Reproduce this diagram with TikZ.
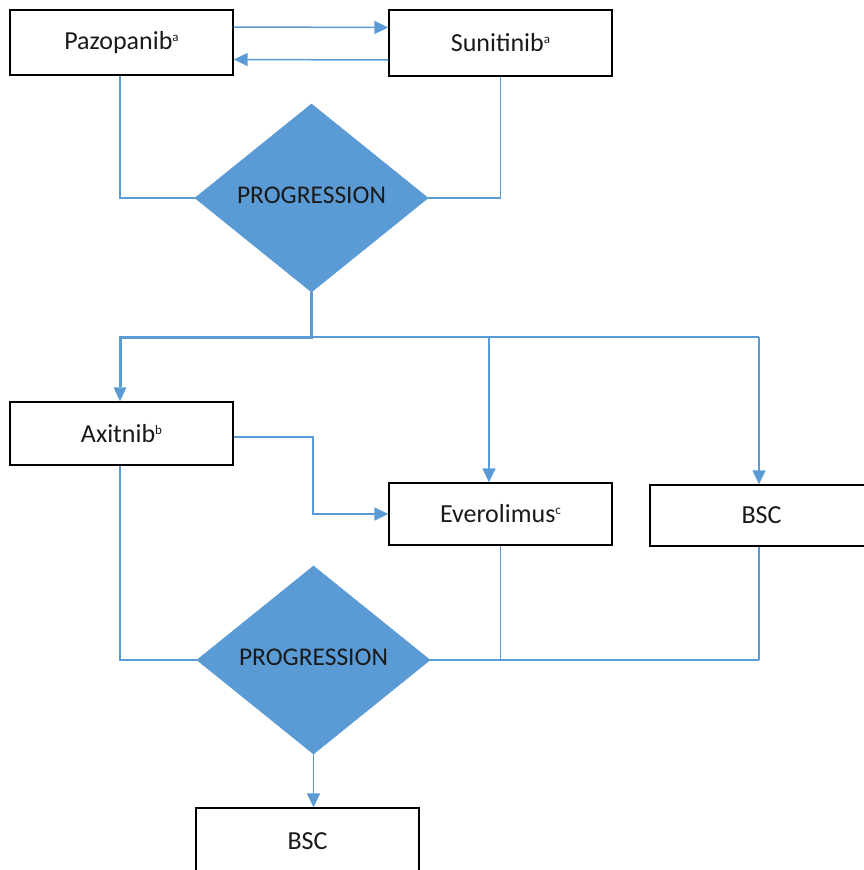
\documentclass[tikz,border=0pt]{standalone}
\usepackage{fontspec}
\setmainfont{Carlito}
\usetikzlibrary{shapes.geometric,arrows.meta}
\definecolor{flowblue}{HTML}{5B9BD5}
\definecolor{labelink}{HTML}{1A1A1A}
\newcommand\upnote[1]{\raisebox{8pt}{\fontsize{13}{13}\selectfont #1}}
\tikzset{
  stepbox/.style={draw=black, line width=1.4pt, fill=white, rectangle,
    minimum width=223pt, inner sep=0pt, text=labelink,
    font=\fontsize{26}{29}\selectfont},
  decision/.style={diamond, fill=flowblue, draw=flowblue, line width=0.8pt,
    inner sep=0pt, minimum width=233pt, minimum height=188pt, aspect=1.24,
    text=labelink, font=\fontsize{25.5}{29}\selectfont},
  flow/.style={draw=flowblue, line width=1.5pt},
  thickflow/.style={draw=flowblue, line width=3pt},
  tip/.style={-{Triangle[length=14pt,width=13pt]}},
  thicktip/.style={-{Triangle[length=14pt,width=13pt,line width=0pt]}},
}
\begin{document}
\begin{tikzpicture}[x=1pt, y=-1pt]
\useasboundingbox (0,0) rectangle (863,870);

% first-line treatments
\node[stepbox, minimum height=65pt] (pz) at (121.5,42.5) {Pazopanib\upnote{a}};
\node[stepbox, minimum height=66pt] (su) at (500.5,43) {Sunitinib\upnote{a}};
\node[decision] (d1) at (311.5,198) {\raisebox{5pt}{PROGRESSION}};

% second-line treatments
\node[stepbox, minimum height=63pt] (ax) at (121.5,433.5) {Axitnib\upnote{b}};
\node[stepbox, minimum height=62pt] (ev) at (500.5,514) {Everolimus\upnote{c}};
\node[stepbox, minimum height=61pt] (bs1) at (761.5,515.5) {BSC};
\node[decision] (d2) at (313.5,660) {\raisebox{5pt}{PROGRESSION}};
\node[stepbox, minimum height=66pt] (bs2) at (307.5,841) {BSC};

% switching between first-line drugs
\draw[flow, tip] ([yshift=15.5pt]pz.east) -- ([yshift=15.5pt]su.west);
\draw[flow, tip] ([yshift=-17pt]su.west) -- ([yshift=-17pt]pz.east);

% first progression
\draw[flow] ([xshift=-1.5pt]pz.south) |- (d1.west);
\draw[flow] (su.south) |- (d1.east);

% split after first progression
\coordinate (split) at (311.5,337);
\coordinate (evdrop) at (489,337);
\coordinate (bsdrop) at (759,337);
\draw[thickflow, thicktip] (d1.south) -- (split) -| ([xshift=-1.5pt]ax.north);
\draw[flow] (split) -- (bsdrop);
\draw[flow, tip] (evdrop) -- (evdrop |- ev.north);
\draw[flow, tip] (bsdrop) -- (bsdrop |- bs1.north);

% axitinib to everolimus
\coordinate (axbend) at (313,437);
\draw[flow, tip] (ax.east |- axbend) -- (axbend) |- (ev.west);

% second progression
\coordinate (join) at (759,660);
\draw[flow] ([xshift=-1.5pt]ax.south) |- (d2.west);
\draw[flow] (d2.east) -- (join);
\draw[flow] (ev.south) -- (ev.south |- join);
\draw[flow] ([xshift=-2.5pt]bs1.south) -- (join);
\draw[flow, tip] (d2.south) -- (d2.south |- bs2.north);
\end{tikzpicture}
\end{document}
